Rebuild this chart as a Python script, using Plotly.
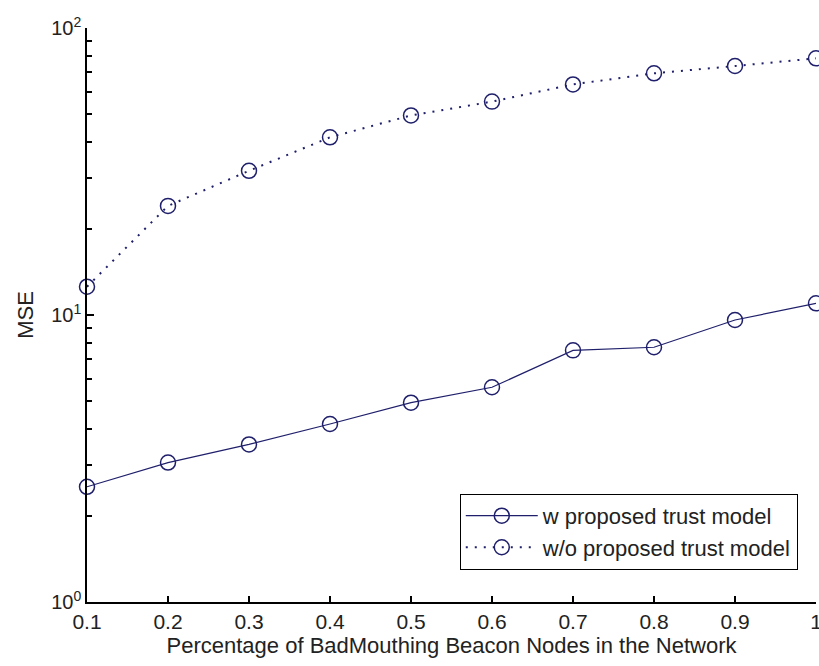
import plotly.graph_objects as go

x_vals = [0.1, 0.2, 0.3, 0.4, 0.5, 0.6, 0.7, 0.8, 0.9, 1.0]
mse_with = [2.52, 3.06, 3.54, 4.17, 4.95, 5.60, 7.53, 7.72, 9.61, 10.98]
mse_without = [12.55, 24.0, 31.8, 41.6, 49.6, 55.4, 63.6, 69.5, 73.7, 78.4]
x_ticks = [0.1, 0.2, 0.3, 0.4, 0.5, 0.6, 0.7, 0.8, 0.9, 1.0]
x_tick_text = ["0.1", "0.2", "0.3", "0.4", "0.5", "0.6", "0.7", "0.8", "0.9", "1"]
y_ticks = [1, 10, 100]
y_tick_text = ["10<sup>0</sup>", "10<sup>1</sup>", "10<sup>2</sup>"]

color = "#1f1f6b"
family = "Liberation Sans, Arial, sans-serif"
txt = "#222222"

fig = go.Figure()
fig.add_trace(go.Scatter(
    x=x_vals, y=mse_with, mode="lines+markers", name="w proposed trust model",
    line=dict(color=color, width=1.2, dash="solid"),
    marker=dict(symbol="circle-open", size=15, color=color, line=dict(width=1.5)),
    cliponaxis=False,
))
fig.add_trace(go.Scatter(
    x=x_vals, y=mse_without, mode="lines+markers", name="w/o proposed trust model",
    line=dict(color=color, width=2, dash="2px,7px"),
    marker=dict(symbol="circle-open", size=15, color=color, line=dict(width=1.5)),
    cliponaxis=False,
))

fig.update_layout(
    width=819, height=666,
    margin=dict(l=87, r=3, t=28, b=64, autoexpand=False),
    paper_bgcolor="white", plot_bgcolor="white",
    font=dict(family=family, size=20, color=txt),
    showlegend=True,
    legend=dict(
        x=0.975, y=0.056, xanchor="right", yanchor="bottom",
        bgcolor="white", bordercolor="black", borderwidth=1,
        font=dict(family=family, size=22, color=txt),
        tracegroupgap=0, itemwidth=72,
    ),
    xaxis=dict(
        range=[0.1, 1.0], tickvals=x_ticks, ticktext=x_tick_text,
        tickfont=dict(family=family, size=21, color=txt),
        ticklabeloverflow="allow",
        showgrid=False, zeroline=False,
        showline=True, linecolor="black", linewidth=1.5,
        ticks="inside", ticklen=6, tickcolor="black", tickwidth=1.5,
        title=dict(text="Percentage of BadMouthing Beacon Nodes in the Network",
                   font=dict(family=family, size=22, color=txt), standoff=6),
    ),
    yaxis=dict(
        type="log", range=[0, 2], tickvals=y_ticks, ticktext=y_tick_text,
        tickfont=dict(family=family, size=20, color=txt),
        showgrid=False, zeroline=False,
        showline=True, linecolor="black", linewidth=1.5,
        ticks="inside", ticklen=7, tickcolor="black", tickwidth=1.5,
        minor=dict(ticks="inside", ticklen=5, tickcolor="black", tickwidth=1.5,
                   tickvals=[2, 3, 4, 5, 6, 7, 8, 9, 20, 30, 40, 50, 60, 70, 80, 90]),
        title=dict(text="MSE", font=dict(family=family, size=22, color=txt), standoff=12),
    ),
)

fig.write_html("out.html", config={"displayModeBar": False},
               post_script="document.body.style.margin='0px';")
